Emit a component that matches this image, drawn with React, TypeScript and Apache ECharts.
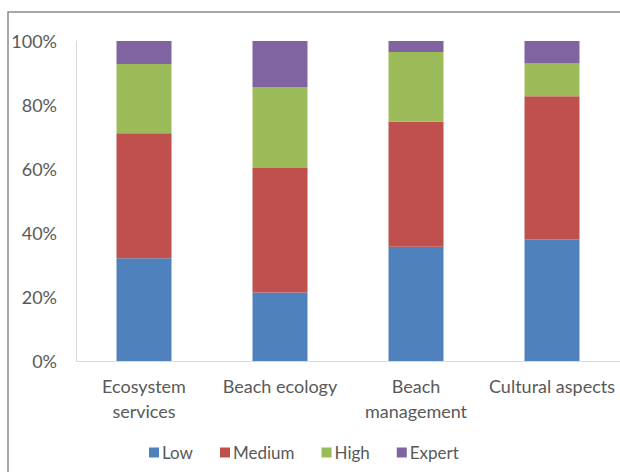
import React, { useEffect, useRef } from "react";
import * as echarts from "echarts";

const categories = ["Ecosystem\nservices", "Beach ecology", "Beach\nmanagement", "Cultural aspects"];
const seriesNames = ["Low", "Medium", "High", "Expert"];
const low = [32.1, 21.4, 35.7, 38.0];
const medium = [39.1, 38.9, 39.1, 44.7];
const high = [21.6, 25.3, 21.8, 10.3];
const expert = [7.2, 14.4, 3.4, 7.0];
const colors = ["#4F81BD", "#C0504D", "#9BBB59", "#8064A2"];
const yTicks = [0, 20, 40, 60, 80, 100];

export default function App() {
  const ref = useRef<HTMLDivElement>(null);
  useEffect(() => {
    if (!ref.current) return;
    const chart = echarts.init(ref.current, null, { renderer: "svg" });
    const values = [low, medium, high, expert];
    const font = "Lato";
    chart.setOption({
      animation: false,
      backgroundColor: "#ffffff",
      color: colors,
      grid: { left: 76, top: 41, width: 546, height: 320, containLabel: false },
      legend: {
        data: seriesNames,
        left: 144,
        top: 439,
        itemWidth: 10,
        itemHeight: 10,
        itemGap: 27,
        icon: "rect",
        textStyle: { fontFamily: font, fontSize: 17, color: "#595959", padding: [0, 0, 0, -2] },
      },
      xAxis: {
        type: "category",
        data: categories,
        axisLine: { show: true, lineStyle: { color: "#d9d9d9", width: 1 } },
        axisTick: { show: false },
        axisLabel: {
          fontFamily: font,
          fontSize: 18,
          color: "#595959",
          lineHeight: 25,
          margin: 12,
          interval: 0,
        },
      },
      yAxis: {
        type: "value",
        min: yTicks[0],
        max: yTicks[yTicks.length - 1],
        interval: 20,
        axisLine: { show: true, lineStyle: { color: "#d9d9d9", width: 1 } },
        axisTick: { show: false },
        splitLine: { show: false },
        axisLabel: {
          fontFamily: font,
          fontSize: 18,
          color: "#595959",
          margin: 19,
          formatter: (v: number) => `${v}%`,
        },
      },
      graphic: [
        {
          type: "rect",
          shape: { x: 8, y: 12, width: 800, height: 700 },
          style: { fill: "none", stroke: "#8a8a8a", lineWidth: 1.5 },
          silent: true,
        },
      ],
      series: seriesNames.map((name, i) => ({
        name,
        type: "bar",
        stack: "total",
        barWidth: 55,
        data: values[i],
        itemStyle: { color: colors[i] },
      })),
    });
    return () => chart.dispose();
  }, []);
  return (
    <div
      ref={ref}
      style={{ position: "fixed", left: 0, top: 0, width: 620, height: 472 }}
    />
  );
}
